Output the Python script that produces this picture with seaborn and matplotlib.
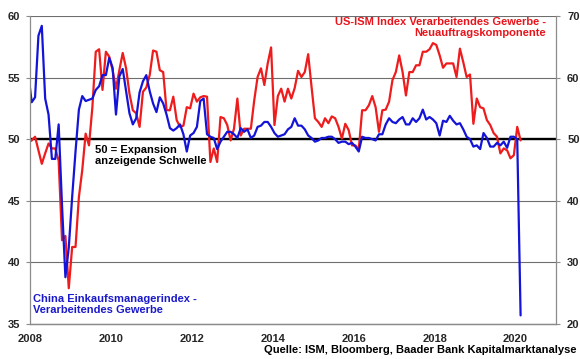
import pandas as pd
import matplotlib
matplotlib.use("Agg")
import matplotlib.pyplot as plt
import seaborn as sns

# monthly values, Dec 2007 .. Feb 2020
china_pmi = [
    55.3,
    53.0, 53.4, 58.4, 59.2, 53.3, 52.0, 48.4, 48.4, 51.2, 44.6, 38.8, 41.2,
    45.3, 49.0, 52.4, 53.5, 53.1, 53.2, 53.3, 54.0, 54.3, 55.2, 55.2, 56.6,
    55.8, 52.0, 55.1, 55.7, 53.9, 52.1, 51.2, 51.7, 53.8, 54.7, 55.2, 53.9,
    52.9, 52.2, 53.4, 52.9, 52.0, 50.9, 50.7, 50.9, 51.2, 50.4, 49.0, 50.3,
    50.5, 51.0, 53.1, 53.3, 50.4, 50.2, 50.1, 49.2, 49.8, 50.2, 50.6, 50.6,
    50.4, 50.1, 50.9, 50.6, 50.8, 50.1, 50.3, 51.0, 51.1, 51.4, 51.4, 51.0,
    50.5, 50.2, 50.3, 50.4, 50.8, 51.0, 51.7, 51.1, 51.1, 50.8, 50.3, 50.1,
    49.8, 49.9, 50.1, 50.1, 50.2, 50.2, 50.0, 49.7, 49.8, 49.8, 49.6, 49.7,
    49.4, 49.0, 50.2, 50.1, 50.1, 50.0, 49.9, 50.4, 50.4, 51.2, 51.7, 51.4,
    51.3, 51.6, 51.8, 51.2, 51.2, 51.7, 51.4, 51.7, 52.4, 51.6, 51.8, 51.6,
    51.3, 50.3, 51.5, 51.4, 51.9, 51.5, 51.2, 51.3, 50.8, 50.2, 50.0, 49.4,
    49.5, 49.2, 50.5, 50.1, 49.4, 49.4, 49.7, 49.5, 49.8, 49.3, 50.2, 50.2,
    50.0, 35.7,
]

ism_new_orders = [
    49.5,
    49.8, 50.4, 48.2, 46.0, 47.7, 49.3, 48.5, 48.5, 46.5, 33.6, 34.3, 25.8,
    32.5, 32.5, 40.6, 45.0, 50.9, 49.0, 55.2, 64.2, 64.6, 58.0, 64.2, 63.4,
    61.2, 58.2, 61.2, 64.0, 61.5, 57.4, 54.7, 54.2, 52.0, 57.7, 58.4, 60.4,
    64.4, 64.2, 61.2, 60.9, 54.7, 54.7, 56.9, 53.1, 52.0, 52.2, 55.2, 55.0,
    57.4, 56.1, 56.8, 57.0, 56.9, 46.3, 48.5, 46.3, 53.6, 53.4, 52.3, 49.8,
    51.7, 56.6, 50.6, 51.7, 51.7, 51.7, 56.3, 60.1, 61.5, 58.8, 62.3, 64.9,
    52.3, 57.0, 58.2, 56.1, 58.2, 56.6, 58.3, 61.1, 60.1, 60.9, 63.8, 58.5,
    53.4, 52.8, 52.0, 53.4, 52.6, 53.7, 53.4, 52.0, 50.1, 52.5, 51.5, 49.0,
    49.0, 48.3, 54.7, 54.7, 55.5, 57.0, 55.2, 51.2, 54.7, 54.8, 56.1, 59.6,
    60.9, 63.6, 60.9, 57.1, 60.9, 60.9, 62.0, 62.0, 64.2, 64.2, 64.6, 65.6,
    65.3, 63.6, 61.6, 62.3, 62.3, 62.3, 60.1, 64.7, 62.5, 60.1, 60.5, 52.5,
    56.6, 55.2, 55.0, 53.1, 52.3, 51.0, 50.4, 47.7, 48.5, 48.2, 46.9, 47.4,
    52.0, 49.8,
]

left_ticks = [35, 40, 45, 50, 55, 60]
right_ticks = [20, 30, 40, 50, 60, 70]
year_ticks = [2008, 2010, 2012, 2014, 2016, 2018, 2020]

months = pd.date_range("2007-12-01", "2020-02-01", freq="MS")
df = pd.DataFrame({
    "x": months.year + (months.month - 0.5) / 12,
    "china": china_pmi,
    "ism": ism_new_orders,
})

sns.set_style("white")
plt.rcParams["font.family"] = ["Liberation Sans", "DejaVu Sans"]
plt.rcParams["font.weight"] = "bold"

fig = plt.figure(figsize=(5.8, 3.59), dpi=100)
ax = fig.add_axes([30 / 580, 1 - 324 / 359, 526 / 580, 308 / 359])
ax2 = ax.twinx()

# red series (right axis) drawn underneath the blue one
ax2.yaxis.grid(True, color="#6e6e6e", lw=0.8)
ax2.set_axisbelow(True)
ax2.axhline(50, color="black", lw=1.7, zorder=1.5)
sns.lineplot(data=df, x="x", y="ism", ax=ax2, color="#ee1c1c", lw=1.6)

sns.lineplot(data=df, x="x", y="china", ax=ax, color="#1414d8", lw=1.6)
ax.set_zorder(ax2.get_zorder() + 1)
ax.patch.set_visible(False)

ax.set_xlim(2008, 2021)
ax.set_ylim(35, 60)
ax2.set_ylim(20, 70)
ax.set_xticks(year_ticks)
ax.set_yticks(left_ticks)
ax2.set_yticks(right_ticks)
ax.set_xlabel("")
ax.set_ylabel("")
ax2.set_ylabel("")

for a in (ax, ax2):
    for side in ("left", "right", "bottom"):
        a.spines[side].set_visible(True)
        a.spines[side].set_color("#8c8c8c")
        a.spines[side].set_linewidth(0.9)
    a.spines["top"].set_visible(False)
ax.spines["right"].set_visible(False)
ax2.spines["left"].set_visible(False)

ax.tick_params(axis="y", length=3, color="#8c8c8c", pad=4, labelsize=8)
ax.tick_params(axis="x", length=3, color="#8c8c8c", pad=4, labelsize=8)
ax2.tick_params(axis="y", length=3, color="#8c8c8c", pad=5, labelsize=8)

ax.text((95 - 30) / 526, 1 - (145 - 16) / 308, "50 = Expansion\nanzeigende Schwelle",
        transform=ax.transAxes, ha="left", va="top", fontsize=8, color="black",
        fontweight="bold", linespacing=1.1)
fig.text(546 / 580, 1 - 17 / 359, "US-ISM Index Verarbeitendes Gewerbe -\nNeuauftragskomponente",
         ha="right", va="top", multialignment="right", fontsize=8, color="#e8141b",
         fontweight="bold", linespacing=1.15)
fig.text(33 / 580, 1 - 294 / 359, "China Einkaufsmanagerindex -\nVerarbeitendes Gewerbe",
         ha="left", va="top", fontsize=8, color="#1a1acc", fontweight="bold",
         linespacing=1.15)
fig.text(577 / 580, 1 - 345 / 359, "Quelle: ISM, Bloomberg, Baader Bank Kapitalmarktanalyse",
         ha="right", va="top", fontsize=8, color="black", fontweight="bold")

fig.savefig("out.png", dpi=100)
plt.close(fig)
